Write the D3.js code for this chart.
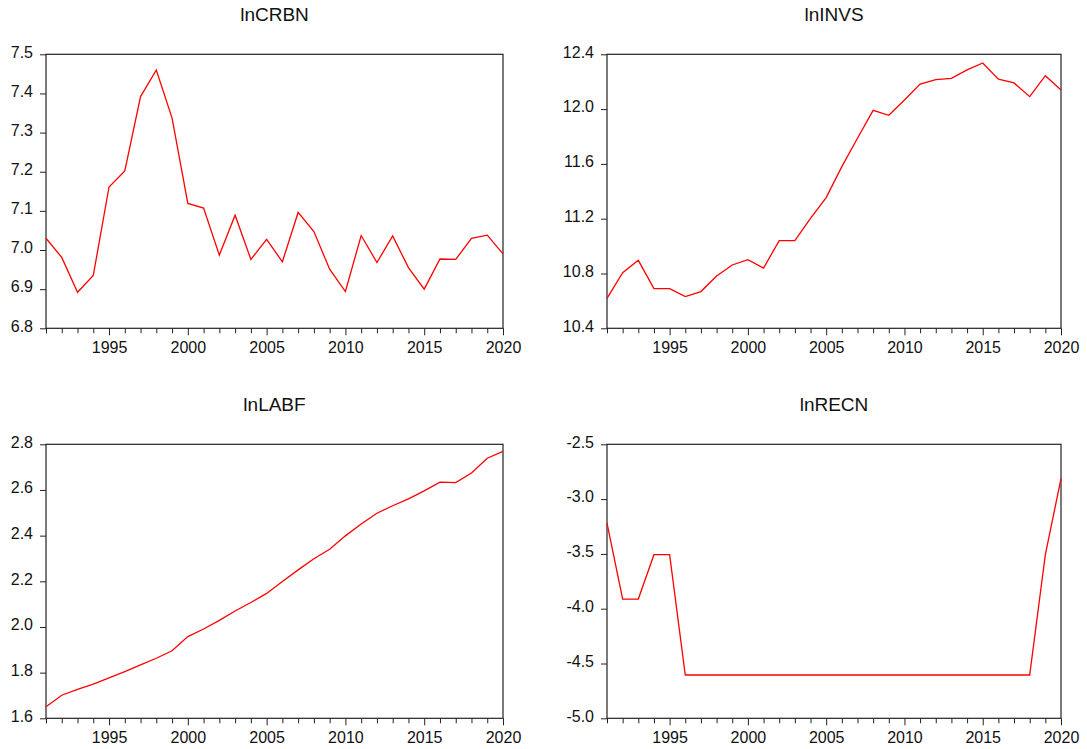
<!DOCTYPE html>
<html>
<head>
<meta charset="utf-8">
<script src="https://cdn.jsdelivr.net/npm/d3@7"></script>
<style>
  body { margin: 0; background: #fff; }
  svg text { font-family: "Liberation Sans", Arial, sans-serif; fill: #111; }
</style>
</head>
<body>
<div id="output"></div>
<script>
(function () {

"use strict";

// Years 1991 - 2020
var years = d3.range(1991, 2021)
var yearLabels = [1995, 2000, 2005, 2010, 2015, 2020]

var lnCRBN = [7.030, 6.981, 6.892, 6.935, 7.161, 7.202, 7.392, 7.460, 7.337, 7.119,
              7.107, 6.987, 7.089, 6.976, 7.027, 6.970, 7.096, 7.047, 6.951, 6.894,
              7.037, 6.968, 7.036, 6.955, 6.900, 6.977, 6.976, 7.030, 7.038, 6.990]
var lnINVS = [10.619, 10.806, 10.896, 10.690, 10.690, 10.631, 10.668, 10.782, 10.862, 10.901,
              10.840, 11.040, 11.040, 11.203, 11.354, 11.580, 11.787, 11.991, 11.955, 12.067,
              12.183, 12.215, 12.225, 12.286, 12.337, 12.218, 12.191, 12.091, 12.244, 12.140]
var lnLABF = [1.651, 1.701, 1.727, 1.750, 1.777, 1.804, 1.834, 1.863, 1.896, 1.958,
              1.991, 2.029, 2.070, 2.107, 2.147, 2.199, 2.250, 2.299, 2.340, 2.399,
              2.451, 2.498, 2.531, 2.561, 2.596, 2.634, 2.632, 2.674, 2.739, 2.769]
var lnRECN = [-3.219, -3.912, -3.912, -3.507, -3.507, -4.605, -4.605, -4.605, -4.605, -4.605,
              -4.605, -4.605, -4.605, -4.605, -4.605, -4.605, -4.605, -4.605, -4.605, -4.605,
              -4.605, -4.605, -4.605, -4.605, -4.605, -4.605, -4.605, -4.605, -3.507, -2.813]

// y ticks for each panel
var crbnTicks = [6.8, 6.9, 7.0, 7.1, 7.2, 7.3, 7.4, 7.5]
var invsTicks = [10.4, 10.8, 11.2, 11.6, 12.0, 12.4]
var labfTicks = [1.6, 1.8, 2.0, 2.2, 2.4, 2.6, 2.8]
var recnTicks = [-5.0, -4.5, -4.0, -3.5, -3.0, -2.5]

var panels = [
  { name: "lnCRBN", values: lnCRBN, ticks: crbnTicks, left: 46, top: 54.3, w: 457 },
  { name: "lnINVS", values: lnINVS, ticks: invsTicks, left: 607, top: 54.3, w: 454 },
  { name: "lnLABF", values: lnLABF, ticks: labfTicks, left: 46, top: 444.3, w: 457 },
  { name: "lnRECN", values: lnRECN, ticks: recnTicks, left: 607, top: 444.3, w: 454 }
]

var width = 1087
  , height = 749
  , plotH = 274
  , fmt = d3.format(".1f")

var svg = d3.select("#output").append("svg").attr("width", width).attr("height", height)

panels.forEach(function (p) {
  var g = svg.append("g").attr("transform", "translate(" + p.left + "," + p.top + ")")
    , x = d3.scaleLinear().domain([1991, 2020]).range([0, p.w])
    , y = d3.scaleLinear().domain(d3.extent(p.ticks)).range([plotH, 0])

  // Title
  g.append("text")
    .attr("x", p.w / 2).attr("y", -33.5)
    .attr("text-anchor", "middle")
    .style("font-size", "19px")
    .text(p.name)

  // Y axis (plain hyphen for negatives, like the original)
  var yAxis = g.append("g")
    .call(d3.axisLeft(y).tickValues(p.ticks).tickSize(6).tickPadding(7)
      .tickFormat(function (d) { return fmt(d).replace("\u2212", "-") }))
  yAxis.select(".domain").remove()
  yAxis.selectAll("text").attr("dy", "0.17em").style("font-size", "16px")
  yAxis.selectAll("line").attr("stroke", "#222")

  // X axis: tick every year, label every five
  var xAxis = g.append("g")
    .attr("transform", "translate(0," + plotH + ")")
    .call(d3.axisBottom(x).tickValues(years).tickSize(5).tickFormat(function (d) {
      return yearLabels.indexOf(d) >= 0 ? d : ""
    }))
  xAxis.select(".domain").remove()
  xAxis.selectAll("line")
    .attr("stroke", "#222")
    .attr("y2", function (d) { return yearLabels.indexOf(d) >= 0 ? 7 : 5 })
  xAxis.selectAll("text").attr("y", 13.6).attr("dy", "0.71em").style("font-size", "16px")

  // Frame
  g.append("rect")
    .attr("x", 0).attr("y", 0)
    .attr("width", p.w).attr("height", plotH)
    .attr("fill", "none")
    .attr("stroke", "#222")
    .attr("stroke-width", 1.2)

  // Series line
  var line = d3.line()
    .x(function (d, i) { return x(years[i]) })
    .y(function (d) { return y(d) })

  g.append("path")
    .datum(p.values)
    .attr("fill", "none")
    .attr("stroke", "#ff0000")
    .attr("stroke-width", 1.3)
    .attr("d", line)
})

}())
</script>
</body>
</html>
